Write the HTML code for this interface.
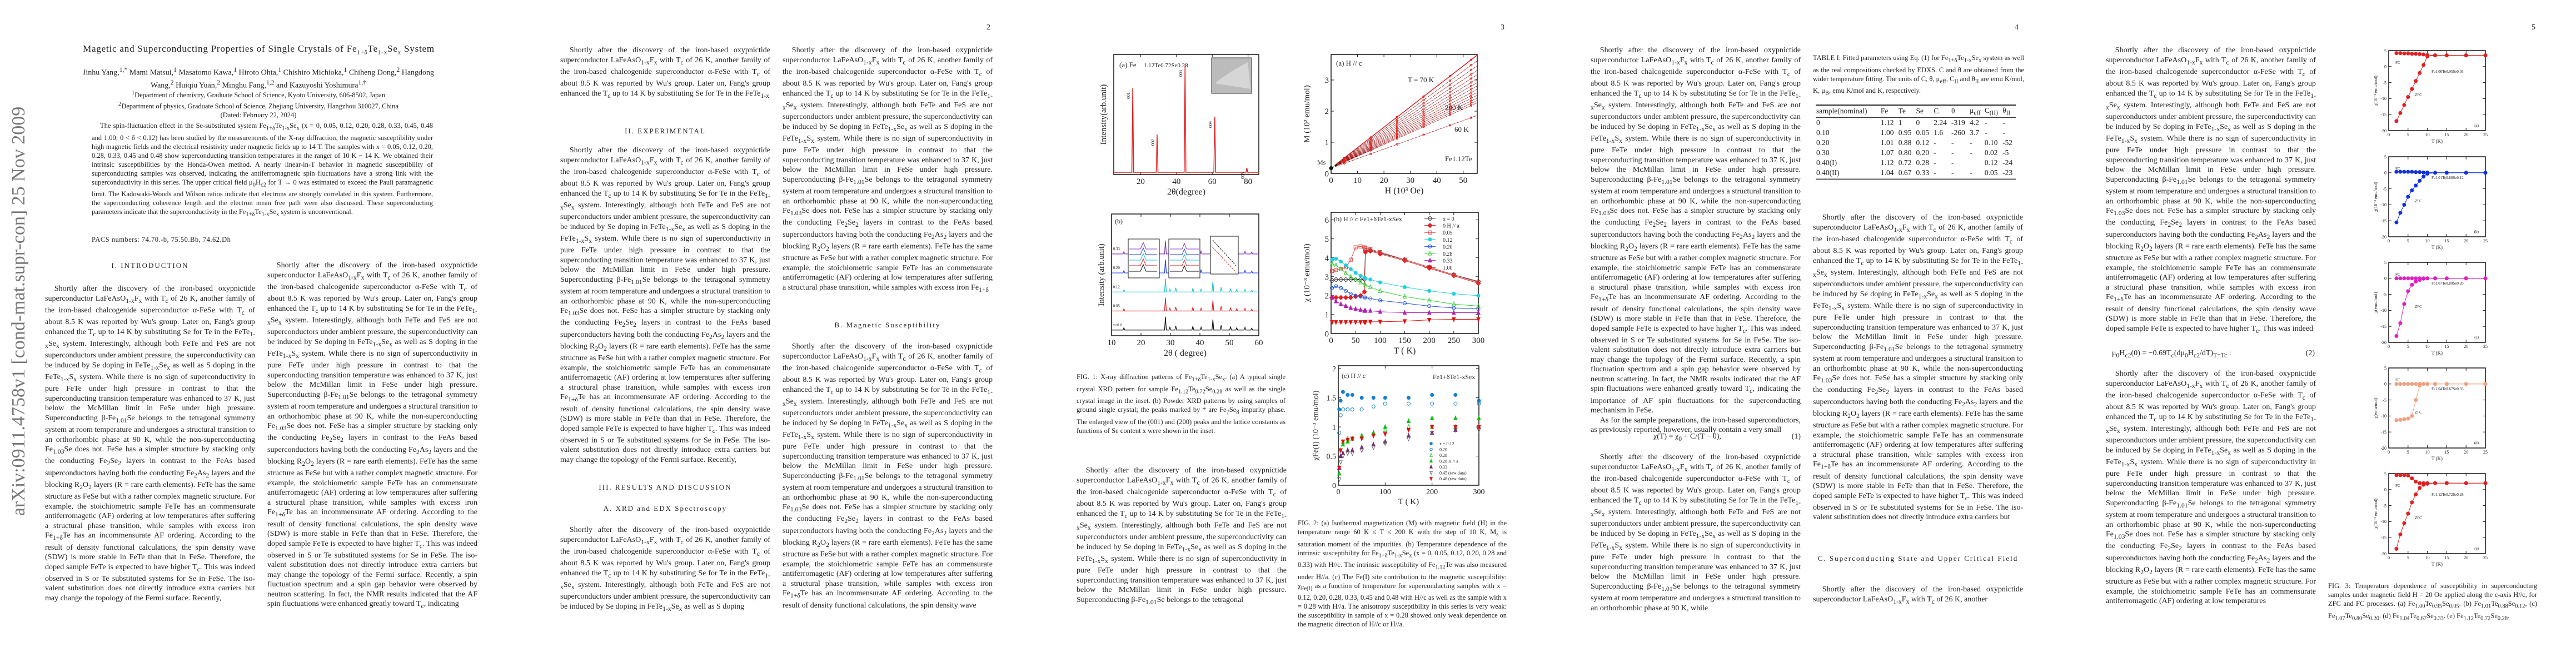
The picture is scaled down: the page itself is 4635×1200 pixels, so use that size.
<!DOCTYPE html>
<html style="width:4635px;height:1200px;overflow:hidden"><head><meta charset="utf-8">
<style>
html,body{margin:0;padding:0;background:#fff;overflow:hidden}
body{width:4635px;height:1200px;position:relative;overflow:hidden;font-family:"Liberation Serif",serif;color:#222}
.col{position:absolute;width:378px;overflow:hidden;font-size:14px;line-height:17.5px;text-align:justify}
.col p{margin:0;text-indent:1.2em}
.h{position:absolute;width:378px;text-align:center;font-size:13px;letter-spacing:2px}
.pn{position:absolute;top:42px;font-size:14px}
.cap{position:absolute;font-size:12.5px;line-height:16px;text-align:justify;width:376px}
.eq{position:absolute;font-size:14px}
table{border-collapse:collapse;font-size:13.5px}
svg text{font-family:"Liberation Serif",serif}
</style></head><body>
<div class="pn" style="left:1775px">2</div>
<div class="pn" style="left:2700px">3</div>
<div class="pn" style="left:3625px">4</div>
<div class="pn" style="left:4555px">5</div>

<div style="position:absolute;left:-390px;top:540px;width:850px;height:40px;text-align:center;transform:rotate(-90deg);font-size:34px;color:#777;white-space:nowrap">arXiv:0911.4758v1 [cond-mat.supr-con] 25 Nov 2009</div>

<div style="position:absolute;left:93px;top:78px;width:745px;text-align:center;font-size:17px;letter-spacing:0.8px;white-space:nowrap">Magetic and Superconducting Properties of Single Crystals of Fe<sub style="font-size:11px">1+δ</sub>Te<sub style="font-size:11px">1-x</sub>Se<sub style="font-size:11px">x</sub> System</div>
<div style="position:absolute;left:140px;top:117px;width:650px;text-align:center;font-size:14px;line-height:17px">Jinhu Yang,<sup>1,*</sup> Mami Matsui,<sup>1</sup> Masatomo Kawa,<sup>1</sup> Hiroto Ohta,<sup>1</sup> Chishiro Michioka,<sup>1</sup> Chiheng Dong,<sup>2</sup> Hangdong Wang,<sup>2</sup> Huiqiu Yuan,<sup>2</sup> Minghu Fang,<sup>1,2</sup> and Kazuyoshi Yoshimura<sup>1,†</sup></div>
<div style="position:absolute;left:120px;top:160px;width:690px;text-align:center;font-size:12.5px;line-height:16.5px"><sup>1</sup>Department of chemistry, Graduate School of Science, Kyoto University, 606-8502, Japan<br><sup>2</sup>Department of physics, Graduate School of Science, Zhejiang University, Hangzhou 310027, China<br>(Dated: February 22, 2024)</div>
<div style="position:absolute;left:165px;top:218px;width:614px;font-size:12.5px;line-height:16px;text-align:justify;text-indent:1.2em">The spin-fluctuation effect in the Se-substituted system Fe<sub>1+δ</sub>Te<sub>1-x</sub>Se<sub>x</sub> (x = 0, 0.05, 0.12, 0.20, 0.28, 0.33, 0.45, 0.48 and 1.00; 0 &lt; δ &lt; 0.12) has been studied by the measurements of the X-ray diffraction, the magnetic susceptibility under high magnetic fields and the electrical resistivity under magnetic fields up to 14 T. The samples with x = 0.05, 0.12, 0.20, 0.28, 0.33, 0.45 and 0.48 show superconducting transition temperatures in the ranger of 10 K − 14 K. We obtained their intrinsic susceptibilities by the Honda-Owen method. A nearly linear-in-T behavior in magnetic susceptibility of superconducting samples was observed, indicating the antiferromagnetic spin fluctuations have a strong link with the superconductivity in this series. The upper critical field μ<sub>0</sub>H<sub>c2</sub> for T → 0 was estimated to exceed the Pauli paramagnetic limit. The Kadowaki-Woods and Wilson ratios indicate that electrons are strongly correlated in this system. Furthermore, the superconducting coherence length and the electron mean free path were also discussed. These superconducting parameters indicate that the superconductivity in the Fe<sub>1+δ</sub>Te<sub>1-x</sub>Se<sub>x</sub> system is unconventional.</div>
<div style="position:absolute;left:165px;top:424px;font-size:12.5px;letter-spacing:0.5px">PACS numbers: 74.70.-b, 75.50.Bb, 74.62.Dh</div>

<div class="h" style="left:81px;top:470px">I. INTRODUCTION</div>
<div class="col tc" style="left:81px;top:511px;height:590px"></div>
<div class="col tc" style="left:481px;top:469px;height:632px"></div>

<div class="col tc" style="left:1008px;top:82px;height:106px"></div>
<div class="h" style="left:1008px;top:228px">II. EXPERIMENTAL</div>
<div class="col tc" style="left:1008px;top:262px;height:578px"></div>
<div class="h" style="left:1008px;top:869px">III. RESULTS AND DISCUSSION</div>
<div class="h" style="left:1008px;top:907px">A. XRD and EDX Spectroscopy</div>
<div class="col tc" style="left:1008px;top:945px;height:158px"></div>
<div class="col tc" style="left:1408px;top:82px;height:456px"></div>
<div class="h" style="left:1408px;top:577px">B. Magnetic Susceptibility</div>
<div class="col tc" style="left:1408px;top:615px;height:488px"></div>

<div class="cap" style="left:1937px;top:670px">FIG. 1: X-ray diffraction patterns of Fe<sub>1+δ</sub>Te<sub>1-x</sub>Se<sub>x</sub>. (a) A typical single crystal XRD pattern for sample Fe<sub>1.12</sub>Te<sub>0.72</sub>Se<sub>0.28</sub> as well as the single crystal image in the inset. (b) Powder XRD patterns by using samples of ground single crystal; the peaks marked by * are Fe<sub>7</sub>Se<sub>8</sub> impurity phase. The enlarged view of the (001) and (200) peaks and the lattice constants as functions of Se content x were shown in the inset.</div>
<div class="col tc" style="left:1937px;top:838px;height:265px"></div>
<div class="cap" style="left:2335px;top:933px;height:210px;overflow:hidden">FIG. 2: (a) Isothermal magnetization (M) with magnetic field (H) in the temperature range 60 K ≤ T ≤ 200 K with the step of 10 K, M<sub>s</sub> is saturation moment of the impurities. (b) Temperature dependence of the intrinsic susceptibility for Fe<sub>1+δ</sub>Te<sub>1-x</sub>Se<sub>x</sub> (x = 0, 0.05, 0.12, 0.20, 0.28 and 0.33) with H//c. The intrinsic susceptibility of Fe<sub>1.12</sub>Te was also measured under H//a. (c) The Fe(I) site contribution to the magnetic susceptibility: χ<sub>Fe(I)</sub> as a function of temperature for superconducting samples with x = 0.12, 0.20, 0.28, 0.33, 0.45 and 0.48 with H//c as well as the sample with x = 0.28 with H//a. The anisotropy susceptibility in this series is very weak: the susceptibility in sample of x = 0.28 showed only weak dependence on the magnetic direction of H//c or H//a.</div>

<div class="col tc" style="left:2862px;top:82px;height:702px"></div>
<div class="eq" style="left:2975px;top:778px;width:265px">χ(T) = χ<sub>0</sub> + C/(T − θ),<span style="float:right">(1)</span></div>
<div class="col tc" style="left:2862px;top:814px;height:289px"></div>
<div class="cap" style="left:3262px;top:96px;width:380px">TABLE I: Fitted parameters using Eq. (1) for Fe<sub>1+δ</sub>Te<sub>1-x</sub>Se<sub>x</sub> system as well as the real compositions checked by EDXS. C and θ are obtained from the wider temperature fitting. The units of C, θ, μ<sub>eff</sub>, C<sub>II</sub> and θ<sub>II</sub> are emu K/mol, K, μ<sub>B</sub>, emu K/mol and K, respectively.</div>
<table style="position:absolute;left:3267px;top:187px;width:360px;border-top:3px double #333;border-bottom:3px double #333">
<tr style="border-bottom:1px solid #333"><td>sample(nominal)</td><td>Fe</td><td>Te</td><td>Se</td><td>C</td><td>θ</td><td>μ<sub>eff</sub></td><td>C<sub>(II)</sub></td><td>θ<sub>II</sub></td></tr>
<tr><td>0</td><td>1.12</td><td>1</td><td>0</td><td>2.24</td><td>-319</td><td>4.2</td><td>-</td><td>-</td></tr>
<tr><td>0.10</td><td>1.00</td><td>0.95</td><td>0.05</td><td>1.6</td><td>-260</td><td>3.7</td><td>-</td><td>-</td></tr>
<tr><td>0.20</td><td>1.01</td><td>0.88</td><td>0.12</td><td>-</td><td>-</td><td>-</td><td>0.10</td><td>-52</td></tr>
<tr><td>0.30</td><td>1.07</td><td>0.80</td><td>0.20</td><td>-</td><td>-</td><td>-</td><td>0.02</td><td>-5</td></tr>
<tr><td>0.40(I)</td><td>1.12</td><td>0.72</td><td>0.28</td><td>-</td><td>-</td><td></td><td>0.12</td><td>-24</td></tr>
<tr><td>0.40(II)</td><td>1.04</td><td>0.67</td><td>0.33</td><td>-</td><td>-</td><td>-</td><td>0.05</td><td>-23</td></tr>
</table>
<div class="col tc" style="left:3262px;top:383px;height:570px"></div>
<div class="h" style="left:3262px;top:997px">C. Superconducting State and Upper Critical Field</div>
<div class="col tc" style="left:3262px;top:1052px;height:51px"></div>

<div class="col tc" style="left:3789px;top:82px;height:525px"></div>
<div class="eq" style="left:3800px;top:628px;width:365px">μ<sub>0</sub>H<sub>c2</sub>(0) = −0.69T<sub>c</sub>(dμ<sub>0</sub>H<sub>c2</sub>/dT)<sub>T=Tc</sub> :<span style="float:right">(2)</span></div>
<div class="col tc" style="left:3789px;top:664px;height:439px"></div>
<div class="cap" style="left:4189px;top:1046px">FIG. 3: Temperature dependence of susceptibility in superconducting samples under magnetic field H = 20 Oe applied along the c-axis H//c, for ZFC and FC processes. (a) Fe<sub>1.00</sub>Te<sub>0.95</sub>Se<sub>0.05</sub>. (b) Fe<sub>1.01</sub>Te<sub>0.88</sub>Se<sub>0.12</sub>, (c) Fe<sub>1.07</sub>Te<sub>0.80</sub>Se<sub>0.20</sub>. (d) Fe<sub>1.04</sub>Te<sub>0.67</sub>Se<sub>0.33</sub>. (e) Fe<sub>1.12</sub>Te<sub>0.72</sub>Se<sub>0.28</sub>.</div>

<div id="src" style="display:none">
<p>Shortly after the discovery of the iron-based oxypnictide superconductor LaFeAsO<sub>1-x</sub>F<sub>x</sub> with T<sub>c</sub> of 26 K, another family of the iron-based chalcogenide superconductor α-FeSe with T<sub>c</sub> of about 8.5 K was reported by Wu's group. Later on, Fang's group enhanced the T<sub>c</sub> up to 14 K by substituting Se for Te in the FeTe<sub>1-x</sub>Se<sub>x</sub> system. Interestingly, although both FeTe and FeS are not superconductors under ambient pressure, the superconductivity can be induced by Se doping in FeTe<sub>1-x</sub>Se<sub>x</sub> as well as S doping in the FeTe<sub>1-x</sub>S<sub>x</sub> system. While there is no sign of superconductivity in pure FeTe under high pressure in contrast to that the superconducting transition temperature was enhanced to 37 K, just below the McMillan limit in FeSe under high pressure. Superconducting β-Fe<sub>1.01</sub>Se belongs to the tetragonal symmetry system at room temperature and undergoes a structural transition to an orthorhombic phase at 90 K, while the non-superconducting Fe<sub>1.03</sub>Se does not. FeSe has a simpler structure by stacking only the conducting Fe<sub>2</sub>Se<sub>2</sub> layers in contrast to the FeAs based superconductors having both the conducting Fe<sub>2</sub>As<sub>2</sub> layers and the blocking R<sub>2</sub>O<sub>2</sub> layers (R = rare earth elements). FeTe has the same structure as FeSe but with a rather complex magnetic structure. For example, the stoichiometric sample FeTe has an commensurate antiferromagetic (AF) ordering at low temperatures after suffering a structural phase transition, while samples with excess iron Fe<sub>1+δ</sub>Te has an incommensurate AF ordering. According to the result of density functional calculations, the spin density wave (SDW) is more stable in FeTe than that in FeSe. Therefore, the doped sample FeTe is expected to have higher T<sub>c</sub>. This was indeed observed in S or Te substituted systems for Se in FeSe. The iso-valent substitution does not directly introduce extra carriers but may change the topology of the Fermi surface. Recently, a spin fluctuation spectrum and a spin gap behavior were observed by neutron scattering. In fact, the NMR results indicated that the AF spin fluctuations were enhanced greatly toward T<sub>c</sub>, indicating the importance of AF spin fluctuations for the superconducting mechanism in FeSe.</p>
<p>As for the sample preparations, the iron-based superconductors, as previously reported, however, usually contain a very small amount of magnetic impurities, e.g., Fe<sub>7</sub>Se<sub>8</sub> and Fe<sub>3</sub>O<sub>4</sub>. Therefore, in many cases the Verwey-phase like transition happens around 120 K due to the existence of the magnetic impurity Fe<sub>3</sub>O<sub>4</sub> which causes a peak in the magnetic susceptibility. To elucidate the superconducting mechanism and its relation with the AF spin fluctuations, it is vitally important to obtain the intrinsic susceptibility. In this study, we successfully synthesized the single crystals of Fe<sub>1+δ</sub>Te<sub>1-x</sub>Se<sub>x</sub> and measured their magnetic susceptibilities under high magnetic fields and obtained the intrinsic susceptibilities by using the Honda-Owen plot. We have found that the magnetic susceptibility of Fe<sub>1+δ</sub>Te<sub>1-x</sub>Se<sub>x</sub> (0.12 ≤ x ≤ 1.00) decreases with decreasing temperature from 300 K to 20 K, similar to the results in high temperature cuprate superconductor (La<sub>1-x</sub>Sr<sub>x</sub>)<sub>2</sub>CuO<sub>4</sub>, or FeAs based superconductors. In addition, we conducted electrical resistivity measurements of two single crystal samples with very close composition x ≈ 0.3, both of which show the superconductivity at T<sub>c</sub> ≈ 14 K under magnetic fields up to 14 T in order to estimate the upper critical field and the coherence length. As a result, the upper critical field is found to be much larger than the Pauli limit, and the initial slope near T<sub>c</sub> is comparable with those of FeAs based superconductors. Although Fe(Te-Se) is a layered superconductor, both the upper critical field and the initial slope near T<sub>c</sub> show weak anisotropies.</p>
</div>

<svg id="figs" width="4635" height="1200" style="position:absolute;left:0;top:0;overflow:hidden" xmlns="http://www.w3.org/2000/svg"></svg>

<script>
// ---------- Figure 1(a) data ----------
var f1aPeakPos = [15.6, 29.2, 44.8, 61.4, 79.3];
var f1aPeakH = [0.78, 0.36, 0.98, 0.52, 0.06];
var f1aPeakLbl = ['001','002','003','004','005'];
var f1aXTicks = [20, 40, 60, 80];
// ---------- Figure 1(b) data ----------
var f1bPeakPos = [14.2, 28.3, 29.8, 31.8, 37.6, 40.4, 44.4, 47.2, 50.4, 52.5, 55.3, 57.6];
var f1bPeakH = [0.12, 0.7, 0.15, 0.22, 0.2, 0.15, 0.55, 0.25, 0.18, 0.12, 0.14, 0.1];
var f1bSamples = ['x=0.0','0.05','0.12','0.20','0.33'];
var f1bXTicks = [10, 20, 30, 40, 50, 60];
// ---------- Figure 2(a) data ----------
var f2aTemps = [60, 70, 80, 90, 100, 110, 120, 130, 140, 150, 160, 170, 180, 190, 200];
var f2aMend = [1.86, 3.80, 3.62, 3.46, 3.31, 3.17, 3.04, 2.92, 2.81, 2.70, 2.60, 2.51, 2.42, 2.34, 2.27];
var f2aMs = 0.17;
var f2aXTicks = [0, 10, 20, 30, 40, 50];
var f2aYTicks = [0, 1, 2, 3];
// ---------- Figure 2(b) data ----------
var f2bT = [2, 10, 20, 30, 40, 50, 60, 68, 70, 80, 100, 150, 200, 250, 300];
var f2bX0 = [2.8, 2.85, 2.85, 2.85, 2.85, 2.85, 2.85, 2.87, 4.4, 4.4, 4.25, 3.9, 3.5, 3.1, 2.75];
var f2bX0a = [1.9, 1.9, 1.9, 1.9, 1.9, 1.95, 2.0, 2.2, 4.3, 4.35, 4.2, 3.85, 3.45, 3.05, 2.65];
var f2bX005 = [3.3, 3.35, 3.4, 3.5, 3.9, 4.55, 4.6, 4.55, 4.5, 4.45, 4.3, 3.9, 3.5, 3.1, 2.7];
var f2bX012 = [3.9, 3.95, 3.8, 3.6, 3.4, 3.2, 3.05, 2.95, 2.9, 2.85, 2.7, 2.45, 2.25, 2.1, 2.0];
var f2bX020 = [2.4, 2.5, 2.4, 2.25, 2.1, 2.0, 1.95, 1.9, 1.9, 1.85, 1.75, 1.6, 1.45, 1.35, 1.3];
var f2bX028 = [3.7, 3.6, 3.4, 3.2, 3.0, 2.85, 2.7, 2.6, 2.55, 2.45, 2.25, 1.95, 1.75, 1.55, 1.45];
var f2bX033 = [1.9, 1.7, 1.55, 1.45, 1.35, 1.3, 1.25, 1.2, 1.2, 1.2, 1.15, 1.1, 1.1, 1.1, 1.1];
var f2bX100 = [0.6, 0.6, 0.6, 0.6, 0.6, 0.6, 0.6, 0.6, 0.6, 0.62, 0.62, 0.65, 0.72, 0.75, 0.75];
var f2bXTicks = [0, 50, 100, 150, 200, 250, 300];
var f2bYTicks = [0, 1, 2, 3, 4, 5, 6];
// ---------- Figure 2(c) data ----------
var f2cT = [2, 5, 10, 20, 30, 50, 75, 100, 150, 200, 250, 300];
var f2cX012 = [1.3, 1.45, 1.6, 1.55, 1.55, 1.5, 1.5, 1.5, 1.5, 1.55, 1.55, 1.45];
var f2cX020 = [0.9, 1.2, 1.3, 1.3, 1.3, 1.3, 1.35, 1.4, 1.4, 1.4, 1.4, 1.4];
var f2cX028 = [0.3, 0.6, 0.75, 0.8, 0.8, 0.85, 0.9, 0.95, 1.0, 1.0, 1.0, 1.0];
var f2cX028a = [0.2, 0.5, 0.7, 0.75, 0.8, 0.85, 0.9, 1.0, 1.1, 1.15, 1.15, 1.15];
var f2cX033 = [0.3, 0.5, 0.55, 0.6, 0.6, 0.65, 0.7, 0.75, 0.85, 0.9, 0.95, 1.0];
var f2cX045 = [0.1, 0.4, 0.5, 0.55, 0.55, 0.6, 0.65, 0.72, 0.8, 0.9, 0.95, 0.95];
var f2cX048 = [0.3, 0.6, 0.75, 0.78, 0.8, 0.8, 0.85, 0.88, 0.95, 1.0, 1.0, 1.0];
var f2cXTicks = [0, 100, 200, 300];
var f2cYTicks = [0.0, 0.5, 1.0, 1.5, 2.0];
// ---------- Figure 3 data ----------
var f3T = [2, 3, 4, 5, 6, 7, 8, 9, 10, 12, 15, 20, 25];
var f3aZFC = [-17, -14.5, -12, -9.5, -7, -4.5, -2, 0.5, 3.2, 3.5, 3.5, 3.5, 3.5];
var f3aFC = [4.2, 4.2, 4.1, 4.1, 4.0, 4.0, 3.9, 3.8, 3.6, 3.5, 3.5, 3.5, 3.5];
var f3bZFC = [-15.5, -12.5, -10, -7.5, -5.5, -4, -2.5, -1.2, -0.3, 0, 0, 0, 0];
var f3bFC = [0.3, 0.3, 0.3, 0.3, 0.3, 0.2, 0.2, 0.1, 0.1, 0, 0, 0, 0];
var f3cZFC = [-18, -14, -8, -4, -2, -1, -0.5, -0.1, 0, 0, 0, 0, 0];
var f3cFC = [0, 0, 0, 0, 0, 0, 0, 0, 0, 0, 0, 0, 0];
var f3dZFC = [-11.3, -11.2, -11, -10.8, -10, -5, -0.5, 0, 0, 0, 0, 0, 0];
var f3dFC = [0, 0, 0, 0, 0, 0, 0, 0, 0, 0, 0, 0, 0];
var f3eZFC = [-18.5, -14, -10.5, -7.5, -4, -1.5, 0.5, 1.5, 1.8, 2, 2, 2, 2];
var f3eFC = [4.5, 4.5, 4.5, 4.4, 3.5, 2.5, 2.0, 2.0, 2, 2, 2, 2, 2];
var f3XTicks = [0, 5, 10, 15, 20, 25];
var f3YTicks = [5, 0, -5, -10, -15, -20];

// ---------- text columns (filled, then trimmed to fit their boxes) ----------
var srcHTML = document.getElementById('src').innerHTML;
function lastText(n){
  for (var i = n.childNodes.length - 1; i >= 0; i--) {
    var c = n.childNodes[i];
    if (c.nodeType === 3) { if (c.nodeValue.trim()) return c; c.parentNode.removeChild(c); continue; }
    if (c.nodeType === 1) { var t = lastText(c); if (t) return t; c.parentNode.removeChild(c); }
  }
  return null;
}
function fitColumn(c){
  var guard = 0;
  while (c.scrollHeight > c.clientHeight + 1 && guard++ < 3000) {
    var t = lastText(c); if (!t) break;
    var w = t.nodeValue.replace(/\s+$/, '').split(' ');
    if (w.length <= 3) { t.parentNode.removeChild(t); }
    else { t.nodeValue = w.slice(0, w.length - 3).join(' '); }
  }
}
document.querySelectorAll('.tc').forEach(function(c){ c.innerHTML = srcHTML; fitColumn(c); });

var NS = 'http://www.w3.org/2000/svg';
var svg = document.getElementById('figs');
function el(tag, attrs, parent){ var e = document.createElementNS(NS, tag); for (var k in attrs) e.setAttribute(k, attrs[k]); (parent||svg).appendChild(e); return e; }
function txt(s, x, y, size, anchor, parent, extra){ var t = el('text', Object.assign({x:x, y:y, 'font-size':size, 'text-anchor':anchor||'middle', fill:'#222'}, extra||{}), parent); t.textContent = s; return t; }
function scale(d0, d1, p0, p1){ return function(v){ return p0 + (v - d0) / (d1 - d0) * (p1 - p0); }; }

function axes(name, box, xd, yd, xt, yt, xl, yl, fs){
  var g = el('g', {});
  
  
  var X = scale(xd[0], xd[1], box[0], box[2]), Y = scale(yd[0], yd[1], box[3], box[1]);
  el('rect', {x:box[0], y:box[1], width:box[2]-box[0], height:box[3]-box[1], fill:'none', stroke:'#111', 'stroke-width':1.5}, g);
  xt.forEach(function(v){ var x = X(v);
    el('line', {x1:x, x2:x, y1:box[3], y2:box[3]-5, stroke:'#111'}, g);
    el('line', {x1:x, x2:x, y1:box[1], y2:box[1]+5, stroke:'#111'}, g);
    txt(String(v), x, box[3]+fs+2, fs, 'middle', g); });
  (yt||[]).forEach(function(v){ var y = Y(v);
    el('line', {x1:box[0], x2:box[0]+5, y1:y, y2:y, stroke:'#111'}, g);
    el('line', {x1:box[2], x2:box[2]-5, y1:y, y2:y, stroke:'#111'}, g);
    txt(String(v), box[0]-4, y+fs*0.35, fs, 'end', g); });
  txt(xl, (box[0]+box[2])/2, box[3]+2*fs+6, fs+1, 'middle', g);
  txt(yl, 0, 0, fs, 'middle', g, {transform:'translate('+(box[0]-(yt&&yt.length?fs*2.6:14))+','+((box[1]+box[3])/2)+') rotate(-90)'});
  return {X:X, Y:Y, g:g};
}
function marker(g, kind, x, y, c, fill, r){
  r = r || 3; var f = fill ? c : 'none', s = {stroke:c, fill:f, 'stroke-width':1};
  if (kind === 'c') return el('circle', Object.assign({cx:x, cy:y, r:r}, s), g);
  if (kind === 's') return el('rect', Object.assign({x:x-r, y:y-r, width:2*r, height:2*r}, s), g);
  if (kind === 'd') return el('polygon', Object.assign({points:[x,y-r-1,x+r+1,y,x,y+r+1,x-r-1,y].join(' ')}, s), g);
  if (kind === 'u') return el('polygon', Object.assign({points:[x,y-r-1,x+r,y+r,x-r,y+r].join(' ')}, s), g);
  return el('polygon', Object.assign({points:[x,y+r+1,x+r,y-r,x-r,y-r].join(' ')}, s), g);
}
function series(ax, name, xs, ys, color, kind, fill, line){
  var g = el('g', {}, ax.g);
  
  
  if (line) el('polyline', {points: xs.map(function(v,i){ return ax.X(v)+','+ax.Y(ys[i]); }).join(' '), fill:'none', stroke:color, 'stroke-width':1}, g);
  if (kind) xs.forEach(function(v,i){ var m = marker(g, kind, ax.X(v), ax.Y(ys[i]), color, fill);
    
     });
}

// ---- Fig 1(a) ----
(function(){
  var ax = axes('fig1a-xrd', [2004,98,2265,314], [5,86], [0,1.08], f1aXTicks, [], '2θ(degree)', 'Intensity(arb.unit)', 15);
  var pts = [[5,0.02]];
  f1aPeakPos.forEach(function(p,i){ pts.push([p-0.5,0.02],[p,f1aPeakH[i]],[p+0.5,0.02]); });
  pts.push([86,0.02]);
  var path = el('polyline', {points: pts.map(function(q){ return ax.X(q[0])+','+ax.Y(q[1]); }).join(' '), fill:'none', stroke:'#e02020', 'stroke-width':1.5}, ax.g);
  
  f1aPeakPos.forEach(function(p,i){ txt(f1aPeakLbl[i], 0, 0, 8, 'middle', ax.g, {transform:'translate('+(ax.X(p)-5)+','+(ax.Y(f1aPeakH[i])+14)+') rotate(-90)'}); });
  txt('(a)  Fe', 2014, 121, 13, 'start', ax.g); txt('1.12Te0.72Se0.28', 2058, 121, 11, 'start', ax.g);
  var ins = el('rect', {x:2180, y:104, width:72, height:64, fill:'#bbb', stroke:'#333'}, ax.g);
  
  el('path', {d:'M2186 150 Q2210 130 2245 112 L2250 160 Z', fill:'#d6d6d6'}, ax.g);
})();

// ---- Fig 1(b) ----
(function(){
  var ax = axes('fig1b-powder-xrd', [2000,385,2265,604], [10,60], [0,6.4], f1bXTicks, [], '2θ ( degree)', 'Intensity (arb.unit)', 15);
  var cols = ['#111','#e02020','#20c0d0','#2040e0','#8030c0'];
  f1bSamples.forEach(function(s, k){
    var pts = [[10, 0.3+k]];
    f1bPeakPos.forEach(function(p,i){ pts.push([p-0.3, 0.3+k],[p, 0.3+k+f1bPeakH[i]],[p+0.3, 0.3+k]); });
    pts.push([60, 0.3+k]);
    var pl = el('polyline', {points: pts.map(function(q){ return ax.X(q[0])+','+ax.Y(q[1]); }).join(' '), fill:'none', stroke:cols[k], 'stroke-width':1.2}, ax.g);
    
    txt(s, ax.X(10.5), ax.Y(0.5+k), 7, 'start', ax.g);
  });
  [[2030,430,56,70],[2103,430,56,70],[2178,425,50,68]].forEach(function(b){
    var r = el('rect', {x:b[0], y:b[1], width:b[2], height:b[3], fill:'#fff', stroke:'#111'}, ax.g);
    
  });
  for (var k = 0; k < 5; k++) {
    el('path', {d:'M2032 '+(488-k*10)+' h20 l5 -12 l5 12 h20', fill:'none', stroke:cols[k]}, ax.g);
    el('path', {d:'M2105 '+(488-k*10)+' h22 l4 -10 l4 10 h22', fill:'none', stroke:cols[k]}, ax.g);
  }
  el('path', {d:'M2182 432 L2224 478', stroke:'#111', 'stroke-dasharray':'3 2', fill:'none'}, ax.g);
  el('path', {d:'M2182 445 L2224 490', stroke:'#e02020', 'stroke-dasharray':'3 2', fill:'none'}, ax.g);
  txt('(b)', 2006, 402, 12, 'start', ax.g);
})();

// ---- Fig 2(a) ----
(function(){
  var ax = axes('fig2a-magnetization', [2395,98,2658,312], [0,55.3], [0,3.82], f2aXTicks, f2aYTicks, 'H (10³ Oe)', 'M (10² emu/mol)', 15);
  f2aTemps.forEach(function(T, i){
    var y1 = f2aMend[i], g = el('g', {}, ax.g);
    
    
    el('line', {x1:ax.X(0), y1:ax.Y(f2aMs), x2:ax.X(55.3), y2:ax.Y(y1), stroke:'#111', 'stroke-dasharray':'5 3', 'stroke-width':0.7}, g);
    el('line', {x1:ax.X(2), y1:ax.Y(f2aMs + (y1-f2aMs)*2/55.3), x2:ax.X(55.3), y2:ax.Y(y1), stroke:'#e02020', 'stroke-width':i===1?1.5:0.5}, g);
    [5,15,25,35,45,53].forEach(function(h){ marker(g, 'c', ax.X(h), ax.Y(f2aMs + (y1-f2aMs)*h/55.3), '#e02020', false, 1.6); });
  });
  el('circle', {cx:ax.X(0), cy:ax.Y(f2aMs), r:3.5, fill:'#111'}, ax.g);
  txt('(a)  H // c', 2404, 118, 13, 'start', ax.g);
  txt('T = 70 K', 2533, 148, 13, 'start', ax.g);
  txt('200 K', 2600, 198, 13, 'start', ax.g);
  txt('60 K', 2617, 237, 13, 'start', ax.g);
  txt('Fe1.12Te', 2600, 290, 13, 'start', ax.g);
  txt('Ms', 2370, 296, 12, 'start', ax.g);
})();

// ---- Fig 2(b) ----
(function(){
  var ax = axes('fig2b-intrinsic-susceptibility', [2395,382,2660,600], [0,300], [0,6.4], f2bXTicks, f2bYTicks, 'T ( K)', 'χ (10⁻³ emu/mol)', 15);
  series(ax, 'series-x0', f2bT, f2bX0, '#333', 'd', false, true);
  series(ax, 'series-x0-H-a', f2bT, f2bX0a, '#e02020', 'd', true, true);
  series(ax, 'series-x005', f2bT, f2bX005, '#e04040', 's', false, true);
  series(ax, 'series-x012', f2bT, f2bX012, '#20d0e0', 'c', true, true);
  series(ax, 'series-x020', f2bT, f2bX020, '#2050e0', 'c', false, true);
  series(ax, 'series-x028', f2bT, f2bX028, '#30d030', 'u', false, true);
  series(ax, 'series-x033', f2bT, f2bX033, '#b020b0', 'u', true, true);
  series(ax, 'series-x100', f2bT, f2bX100, '#e01010', 'v', true, true);
  var lg = [['x = 0','#333','d',false],['0  H // a','#e02020','d',true],['0.05','#e04040','s',false],['0.12','#20d0e0','c',true],['0.20','#2050e0','c',false],['0.28','#30d030','u',false],['0.33','#b020b0','u',true],['1.00','#e01010','v',true]];
  lg.forEach(function(L, i){ var y = 393 + i*12.6, g = el('g', {}, ax.g);
    
    
    el('line', {x1:2563, x2:2583, y1:y, y2:y, stroke:L[1]}, g); marker(g, L[2], 2573, y, L[1], L[3]); txt(L[0], 2596, y+4, 10, 'start', g); });
  txt('(b)  H // c   Fe1+δTe1-xSex', 2400, 398, 12, 'start', ax.g);
})();

// ---- Fig 2(c) ----
(function(){
  var ax = axes('fig2c-fe1-susceptibility', [2408,658,2661,873], [0,300], [0,2.05], f2cXTicks, f2cYTicks, 'T ( K)', 'χFe(I) (10⁻³ emu/mol)', 14);
  series(ax, 'series-x012', f2cT, f2cX012, '#1080d0', 'c', true, false);
  series(ax, 'series-x020', f2cT, f2cX020, '#1080d0', 'c', false, false);
  series(ax, 'series-x028', f2cT, f2cX028, '#30c030', 'u', false, false);
  series(ax, 'series-x028-H-a', f2cT, f2cX028a, '#10c010', 'u', true, false);
  series(ax, 'series-x033', f2cT, f2cX033, '#802080', 'u', true, false);
  series(ax, 'series-x045-raw', f2cT, f2cX045, '#666', 'v', false, false);
  series(ax, 'series-x048-raw', f2cT, f2cX048, '#e01010', 'v', true, false);
  var lg = [['x = 0.12','#1080d0','c',true],['0.20','#1080d0','c',false],['0.28','#30c030','u',false],['0.28 H // a','#10c010','u',true],['0.33','#802080','u',true],['0.45 (raw data)','#666','v',false],['0.48 (raw data)','#e01010','v',true]];
  lg.forEach(function(L, i){ var y = 798 + i*10.5, g = el('g', {}, ax.g);
    
    
    marker(g, L[2], 2575, y, L[1], L[3], 2.3); txt(L[0], 2590, y+3, 8, 'start', g); });
  txt('(c)  H // c', 2414, 680, 12, 'start', ax.g);
  txt('Fe1+δTe1-xSex', 2578, 682, 12, 'start', ax.g);
})();

// ---- Fig 3 ----
(function(){
  var panels = [
    ['a', 91, f3aZFC, f3aFC, '#e02020', 'Fe1.00Te0.95Se0.05', 'χ(10⁻³ emu/mol)'],
    ['b', 282, f3bZFC, f3bFC, '#1030e0', 'Fe1.01Te0.88Se0.12', 'χ(10⁻³ emu/mol)'],
    ['c', 472, f3cZFC, f3cFC, '#e020c0', 'Fe1.07Te0.80Se0.20', 'χ(emu/mol)'],
    ['d', 662, f3dZFC, f3dFC, '#f0a080', 'Fe1.04Te0.67Se0.33', 'χ(emu/mol)'],
    ['e', 852, f3eZFC, f3eFC, '#e02020', 'Fe1.12Te0.72Se0.28', 'χ(10⁻³ emu/mol)']];
  panels.forEach(function(P){
    var ax = axes('fig3' + P[0] + '-zfc-fc', [4298, P[1], 4472, P[1]+144], [0,25], [-20,5], f3XTicks, f3YTicks, 'T (K)', P[6], 8);
    series(ax, 'zfc-curve', f3T, P[2], P[4], 'c', true, true);
    series(ax, 'fc-curve', f3T, P[3], P[4], 'c', true, true);
    txt('FC', 4310, P[1]+24, 7, 'start', ax.g);
    txt('ZFC', 4345, P[1]+82, 7, 'start', ax.g);
    txt(P[5], 4375, P[1]+40, 7, 'start', ax.g);
    txt('(' + P[0] + ')', 4460, P[1]+137, 7, 'end', ax.g);
  });
})();
</script>
</body></html>
